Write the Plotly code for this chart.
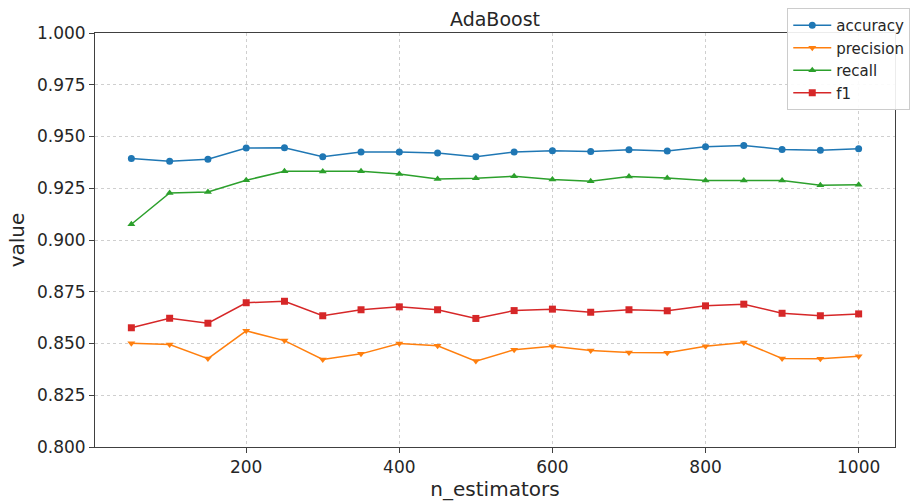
import plotly.graph_objects as go

n_estimators = [50, 100, 150, 200, 250, 300, 350, 400, 450, 500, 550, 600, 650, 700, 750, 800, 850, 900, 950, 1000]
accuracy = [0.9394, 0.9380, 0.9390, 0.9444, 0.9446, 0.9402, 0.9425, 0.9425, 0.9420, 0.9402, 0.9425, 0.9431, 0.9428, 0.9436, 0.9430, 0.9450, 0.9457, 0.9437, 0.9434, 0.9441]
precision = [0.8501, 0.8495, 0.8427, 0.8561, 0.8514, 0.8423, 0.8450, 0.8500, 0.8489, 0.8415, 0.8470, 0.8487, 0.8466, 0.8457, 0.8455, 0.8487, 0.8505, 0.8428, 0.8426, 0.8439]
recall = [0.9076, 0.9227, 0.9232, 0.9289, 0.9332, 0.9331, 0.9332, 0.9319, 0.9295, 0.9298, 0.9308, 0.9292, 0.9284, 0.9307, 0.9300, 0.9288, 0.9288, 0.9287, 0.9265, 0.9267]
f1 = [0.8576, 0.8622, 0.8598, 0.8697, 0.8704, 0.8634, 0.8663, 0.8677, 0.8663, 0.8621, 0.8659, 0.8666, 0.8651, 0.8663, 0.8658, 0.8682, 0.8690, 0.8646, 0.8634, 0.8643]

y_ticks = [0.800, 0.825, 0.850, 0.875, 0.900, 0.925, 0.950, 0.975, 1.000]
x_ticks = [200, 400, 600, 800, 1000]

series = [
    ("accuracy", accuracy, "#1f77b4", "circle"),
    ("precision", precision, "#ff7f0e", "triangle-down"),
    ("recall", recall, "#2ca02c", "triangle-up"),
    ("f1", f1, "#d62728", "square"),
]

fig = go.Figure()
for name, vals, color, sym in series:
    fig.add_trace(go.Scatter(
        x=n_estimators, y=vals, name=name, mode="lines+markers",
        line=dict(color=color, width=1.5),
        marker=dict(color=color, symbol=sym, size=7),
    ))

font_family = "DejaVu Sans"
fig.update_layout(
    width=913, height=501,
    margin=dict(l=95, r=18, t=33, b=54, autoexpand=False),
    paper_bgcolor="white", plot_bgcolor="white",
    font=dict(family=font_family, color="#262626"),
    title=dict(text="AdaBoost", x=0.5, xref="paper", xanchor="center",
               y=1 - 19 / 501, yanchor="middle", font=dict(size=19, color="#262626")),
    legend=dict(xref="container", yref="container",
                x=0.997, xanchor="right", y=1 - 8 / 501, yanchor="top",
                bgcolor="rgba(255,255,255,0.9)", bordercolor="#cccccc", borderwidth=1,
                font=dict(size=15, color="#262626"), tracegroupgap=0, itemwidth=38),
    showlegend=True,
)
fig.update_xaxes(
    range=[2.5, 1047.5], tickmode="array", tickvals=x_ticks,
    ticktext=[str(v) for v in x_ticks],
    showgrid=True, gridcolor="#cfcfcf", griddash="dot", gridwidth=1,
    showline=True, linecolor="#404040", linewidth=1, mirror=True,
    ticks="outside", ticklen=5, tickcolor="#404040",
    tickfont=dict(size=17), zeroline=False, automargin=False,
    title=dict(text="n_estimators", font=dict(size=20), standoff=6),
)
fig.update_yaxes(
    range=[0.8, 1.0], tickmode="array", tickvals=y_ticks,
    ticktext=[f"{v:.3f}" for v in y_ticks],
    showgrid=True, gridcolor="#cfcfcf", griddash="dot", gridwidth=1,
    showline=True, linecolor="#404040", linewidth=1, mirror=True,
    ticks="outside", ticklen=5, tickcolor="#404040",
    tickfont=dict(size=17), zeroline=False, automargin=False,
    title=dict(text="value", font=dict(size=20), standoff=6),
)

fig.write_html("out.html")
